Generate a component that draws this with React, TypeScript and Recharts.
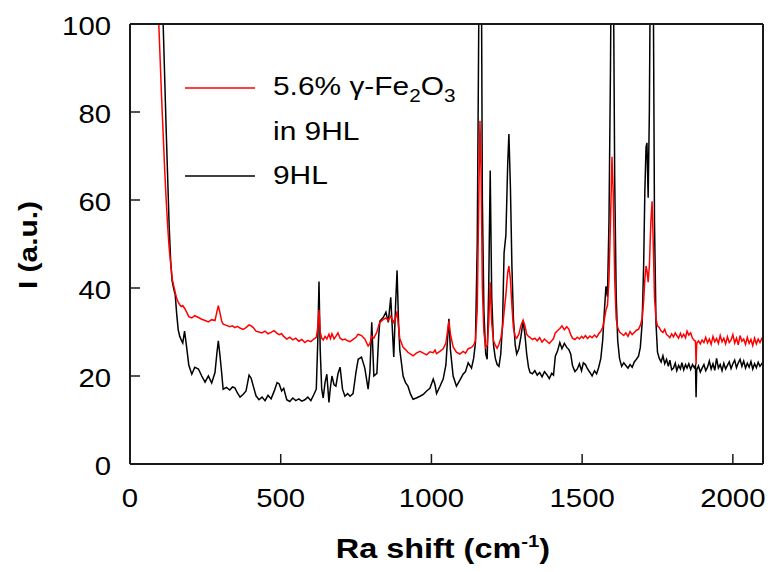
import { LineChart, Line, XAxis, YAxis, Legend } from "recharts";

// ── Data ──────────────────────────────────────────────────────────────────────
const shift = [
  90, 95, 100, 105, 110, 115, 120, 125, 130, 135, 140, 145, 150, 155, 160, 165, 170, 175, 181, 188,
  195, 205, 215, 227, 238, 249, 260, 271, 282, 288, 293, 298, 304, 309, 320, 331, 340, 348, 356, 365,
  375, 385, 395, 402, 409, 418, 428, 438, 448, 458, 468, 478, 488, 495, 503, 510, 520, 530, 540, 550,
  560, 570, 580, 590, 600, 610, 618, 623, 627, 631, 636, 641, 647, 653, 660, 665, 670, 677, 683, 690,
  697, 705, 713, 722, 730, 740, 750, 757, 768, 779, 790, 796, 802, 809, 819, 825, 829, 840, 849, 857,
  865, 875, 881, 886, 891, 895, 906, 914, 922, 930, 939, 950, 962, 973, 984, 995, 1006, 1012, 1017, 1028,
  1039, 1048, 1054, 1058, 1063, 1072, 1083, 1094, 1105, 1113, 1122, 1133, 1140, 1146, 1152, 1157, 1161, 1165, 1169, 1174,
  1180, 1185, 1190, 1195, 1200, 1206, 1212, 1218, 1224, 1230, 1236, 1241, 1247, 1253, 1257, 1262, 1267, 1272, 1278, 1283,
  1290, 1297, 1304, 1310, 1316, 1322, 1327, 1335, 1343, 1351, 1359, 1367, 1375, 1383, 1391, 1399, 1405, 1411, 1418, 1426,
  1433, 1441, 1449, 1456, 1462, 1468, 1476, 1484, 1491, 1498, 1504, 1511, 1518, 1526, 1533, 1541, 1548, 1555, 1562, 1568,
  1574, 1579, 1584, 1589, 1594, 1599, 1603, 1608, 1613, 1618, 1624, 1631, 1638, 1645, 1652, 1659, 1666, 1673, 1680, 1687,
  1693, 1699, 1704, 1708, 1712, 1715, 1719, 1723, 1728, 1732, 1736, 1740, 1745, 1750, 1756, 1762, 1768, 1774, 1780, 1786,
  1791, 1797, 1803, 1809, 1814, 1820, 1826, 1831, 1837, 1843, 1848, 1854, 1860, 1866, 1872, 1876, 1878, 1880, 1886, 1892,
  1898, 1904, 1910, 1916, 1922, 1928, 1934, 1940, 1946, 1952, 1958, 1964, 1970, 1976, 1982, 1988, 1994, 2000, 2006, 2012,
  2018, 2024, 2030, 2036, 2042, 2048, 2054, 2060, 2066, 2072, 2078, 2084, 2090, 2096, 2100,
];

// 5.6% γ-Fe2O3 in 9HL (red)
const fe2o3 = [
  112, 101, 92, 83, 75, 67, 60, 54, 49, 45.5, 42, 40.5, 39, 37.6, 36.8, 36.2, 35.8, 36, 35.4, 34.5,
  33.5, 33.2, 33.7, 33.3, 32.9, 32.6, 32.3, 32.8, 32.6, 34.5, 36, 34.5, 32.5, 31.8, 31.5, 31.2, 31.4, 31, 31.3, 30.9,
  30.6, 31, 31.6, 31.4, 31, 30.2, 30, 29.8, 30.2, 29.6, 29.9, 30.3, 29.7, 29.4, 29.6, 29, 28.4, 28.8, 28.2, 28.6,
  27.9, 28.3, 27.6, 28.1, 27.8, 28.4, 28.8, 31, 35, 30, 28.6, 28.2, 29, 28.4, 29.5, 28.5, 29.6, 28.4, 29, 29.8,
  28.6, 28.2, 28.4, 28, 27.8, 28.3, 28.8, 29.5, 29.2, 28.4, 26.8, 27.4, 29, 28.6, 30, 31.5, 32.2, 32.8, 33.2, 32.6,
  33.6, 32.2, 33.2, 34.7, 31, 28.5, 26.5, 26, 25.4, 25, 24.6, 25.2, 25.6, 25.2, 24.8, 25.5, 25.3, 25.9, 25.1, 25.6,
  26.2, 27.5, 30.5, 32.5, 29.5, 26.6, 25.4, 25, 25.6, 25.2, 26.2, 26.5, 27, 28, 35, 60, 78, 65, 40, 30,
  26.5, 27, 32, 41.3, 32, 28, 27, 26.3, 27.2, 28.5, 31, 34.5, 38.5, 43.5, 45, 42, 36, 31, 29, 28.6,
  29.5, 31.5, 32.7, 31.5, 29.5, 29, 28.8, 28.3, 28.6, 28, 28.7, 27.7, 28.4, 27.9, 27.4, 28, 28.5, 29.8, 30.3, 30.8,
  31.4, 30.5, 31.2, 30.6, 29.4, 28.6, 28.3, 28.8, 28.4, 29, 28.6, 29.2, 28.5, 29.1, 28.7, 29.3, 28.8, 29.6, 30.2, 31,
  33, 35, 36, 42, 55, 69.8, 62, 42, 33, 31, 30, 29.6, 29.2, 29.8, 29, 30.1, 29.4, 29.9, 30.4, 30.6,
  31.5, 33, 37, 42, 45, 44, 41.3, 45, 55, 59.7, 50, 38, 33, 31.4, 31, 30.2, 29.9, 30.6, 29.4, 29.1,
  28.7, 29.6, 28.9, 29.8, 29.2, 28.6, 29.7, 28.8, 29.5, 28.7, 30.2, 29.3, 29.8, 28.6, 28.1, 27.9, 22.7, 27.4, 28, 27.3,
  28.2, 27.6, 28.8, 27.5, 28.4, 27.2, 29, 27.8, 28.5, 27.4, 29.2, 27.8, 28.6, 27.3, 28.9, 27.6, 28.2, 29.4, 27.5, 28.6,
  27.1, 29.2, 27.9, 28.4, 27.2, 28.8, 27.4, 28.3, 26.9, 28.6, 27.3, 28.4, 27.6, 28.5, 28.1,
];

// 9HL (black)
const hl9 = [
  150, 136, 123, 111, 100, 88, 76, 65, 54, 46, 41.5, 39.8, 38.5, 34, 30.5, 29, 28.2, 27.5, 30.2, 26.5,
  22.5, 20.4, 22, 21.6, 20, 18.6, 20, 18.4, 20.8, 25, 28, 25, 20.8, 17, 17.4, 16.8, 17.5, 17.3, 16.2, 15.2,
  15.8, 16.6, 20.2, 19.5, 17.7, 15.5, 14.6, 15.2, 14.4, 15.6, 14.8, 16.5, 18.5, 18.2, 16.6, 17.2, 14.6, 14.2, 15, 14.4,
  14.8, 14.3, 14.6, 15.2, 14.4, 15.8, 17, 28, 41.5, 26, 17, 15, 18.5, 20.4, 14, 17.5, 20, 18, 17.7, 20.5,
  22, 17, 15.4, 16, 15.4, 16, 21, 23.8, 24.3, 21.8, 17, 21, 32.2, 20, 20.6, 29, 32.5, 33.3, 34.5, 32.2,
  37.9, 24.3, 36, 44, 32, 26, 20, 18.5, 17.7, 16, 14.7, 15, 15.4, 15.8, 16.6, 17.2, 19.3, 18, 16, 17.6,
  19.3, 22.5, 29, 33, 26, 20, 17.7, 19, 20.4, 21, 23, 21.8, 24, 27.5, 50, 100, 140, 125, 60, 35,
  25, 23.8, 40, 66.7, 38, 27, 24, 22.6, 22.2, 25, 32, 48, 52, 68, 75, 63, 45, 33, 27, 25,
  26.2, 29, 32.4, 29.5, 25, 22, 20.8, 20.5, 21.2, 20.2, 20.8, 19.8, 21, 20.3, 19.4, 20.6, 20.2, 24.5, 25.6, 27.6,
  26.2, 27.4, 26.5, 26, 25, 22.4, 21, 21.6, 22.8, 21.2, 23, 22.6, 21.6, 20.8, 20, 21.2, 20.5, 22, 24, 28,
  35, 40.4, 38, 55, 90, 140, 120, 65, 38, 28, 24, 22.2, 23, 22.4, 21.8, 22.6, 22, 23.2, 23.8, 24.5,
  26.5, 32, 45, 62, 72, 73, 60.5, 80, 130, 140, 110, 55, 32, 25.4, 24, 23.2, 24.6, 22.8, 23.8, 22.2,
  23.6, 21.4, 21.8, 22.9, 21.2, 22.4, 21.6, 23, 21.4, 22.6, 21.8, 22.8, 21.5, 22.6, 21.9, 22.4, 15.2, 21.4, 22.3, 20.9,
  21.8, 22.6, 21.2, 22, 23.4, 21.6, 22.8, 21.3, 24, 21.8, 22.6, 21.2, 22.9, 21.6, 22.4, 23.2, 21.7, 22.8, 23.6, 21.9,
  23, 23.8, 22.2, 23.4, 21.8, 22.9, 22, 23.3, 21.6, 22.8, 21.9, 23.1, 22.2, 22.8, 22.5,
];

const xTicks = [0, 500, 1000, 1500, 2000];
const yTicks = [0, 20, 40, 60, 80, 100];

const data = shift.map((s, i) => ({ shift: s, fe2o3: fe2o3[i], hl9: hl9[i] }));

// ── Styles ────────────────────────────────────────────────────────────────────
const FONT = "'Liberation Sans', Arial, Helvetica, sans-serif";
const WIDE = 1.15; // the reference glyphs are drawn wider than Arial
const FRAME = "#1a1a1a";

function XTick({ x, y, payload }: any) {
  return (
    <text transform={`translate(${x},${y + 43}) scale(${WIDE},1)`} textAnchor="middle"
      fontFamily={FONT} fontSize={25.5} fill="#000">
      {payload.value}
    </text>
  );
}

function YTick({ x, y, payload }: any) {
  return (
    <text transform={`translate(${x - 19},${y + 11}) scale(${WIDE},1)`} textAnchor="end"
      fontFamily={FONT} fontSize={25.5} fill="#000">
      {payload.value}
    </text>
  );
}

function LegendBox() {
  const t = { fontFamily: FONT, fontSize: 26, fill: "#000" };
  return (
    <svg width={771} height={200} style={{ display: "block" }}>
      <line x1={185} x2={255} y1={88} y2={88} stroke="#ff0000" strokeWidth={1.4} />
      <line x1={185} x2={255} y1={176} y2={176} stroke="#000" strokeWidth={1.4} />
      <text transform={`translate(273,95) scale(${WIDE},1)`} {...t}>
        5.6% γ-Fe<tspan fontSize={18} dy={7}>2</tspan>
        <tspan dy={-7}>O</tspan><tspan fontSize={18} dy={7}>3</tspan>
      </text>
      <text transform={`translate(273,140) scale(${WIDE},1)`} {...t}>in 9HL</text>
      <text transform={`translate(273,184) scale(${WIDE},1)`} {...t}>9HL</text>
    </svg>
  );
}

// ── Main ──────────────────────────────────────────────────────────────────────
export default function App() {
  return (
    <div style={{ position: "absolute", left: 0, top: 0, width: 771, height: 572, background: "#fff" }}>
      <LineChart width={771} height={572} data={data}
        margin={{ top: 23, right: 7, left: 0, bottom: 0 }}>
        <XAxis dataKey="shift" type="number" domain={[0, 2100]} ticks={xTicks}
          height={108} tickSize={-10} tickMargin={10} tick={<XTick />}
          axisLine={{ stroke: FRAME, strokeWidth: 2 }} tickLine={{ stroke: FRAME, strokeWidth: 1.5 }} />
        <XAxis xAxisId="top" orientation="top" dataKey="shift" type="number" domain={[0, 2100]} ticks={xTicks}
          height={1} tickSize={-10} tick={false}
          axisLine={{ stroke: FRAME, strokeWidth: 2 }} tickLine={{ stroke: FRAME, strokeWidth: 1.5 }} />
        <YAxis type="number" domain={[0, 100]} ticks={yTicks} allowDataOverflow
          width={130} tickSize={-10} tickMargin={10} tick={<YTick />}
          axisLine={{ stroke: FRAME, strokeWidth: 2 }} tickLine={{ stroke: FRAME, strokeWidth: 1.5 }} />
        <YAxis yAxisId="right" orientation="right" type="number" domain={[0, 100]} ticks={yTicks} allowDataOverflow
          width={1} tickSize={-10} tick={false}
          axisLine={{ stroke: FRAME, strokeWidth: 2 }} tickLine={{ stroke: FRAME, strokeWidth: 1.5 }} />
        <Legend layout="horizontal" verticalAlign="middle" align="center"
          wrapperStyle={{ left: 0, top: 0, width: 771, height: 200 }} content={() => <LegendBox />} />
        <Line dataKey="hl9" name="9HL" stroke="#000" strokeWidth={1.5} dot={false}
          isAnimationActive={false} type="linear" />
        <Line dataKey="fe2o3" name="5.6% γ-Fe2O3 in 9HL" stroke="#ff0000" strokeWidth={1.5} dot={false}
          isAnimationActive={false} type="linear" />
        <text transform={`translate(37,245) rotate(-90) scale(${WIDE},1)`} textAnchor="middle"
          fontFamily={FONT} fontSize={26} fontWeight="bold" fill="#000">I (a.u.)</text>
        <text transform={`translate(443,558) scale(1.2,1)`} textAnchor="middle"
          fontFamily={FONT} fontSize={27} fontWeight="bold" fill="#000">
          Ra shift (cm<tspan fontSize={17} dy={-11}>-1</tspan><tspan dy={11}>)</tspan>
        </text>
      </LineChart>
    </div>
  );
}
